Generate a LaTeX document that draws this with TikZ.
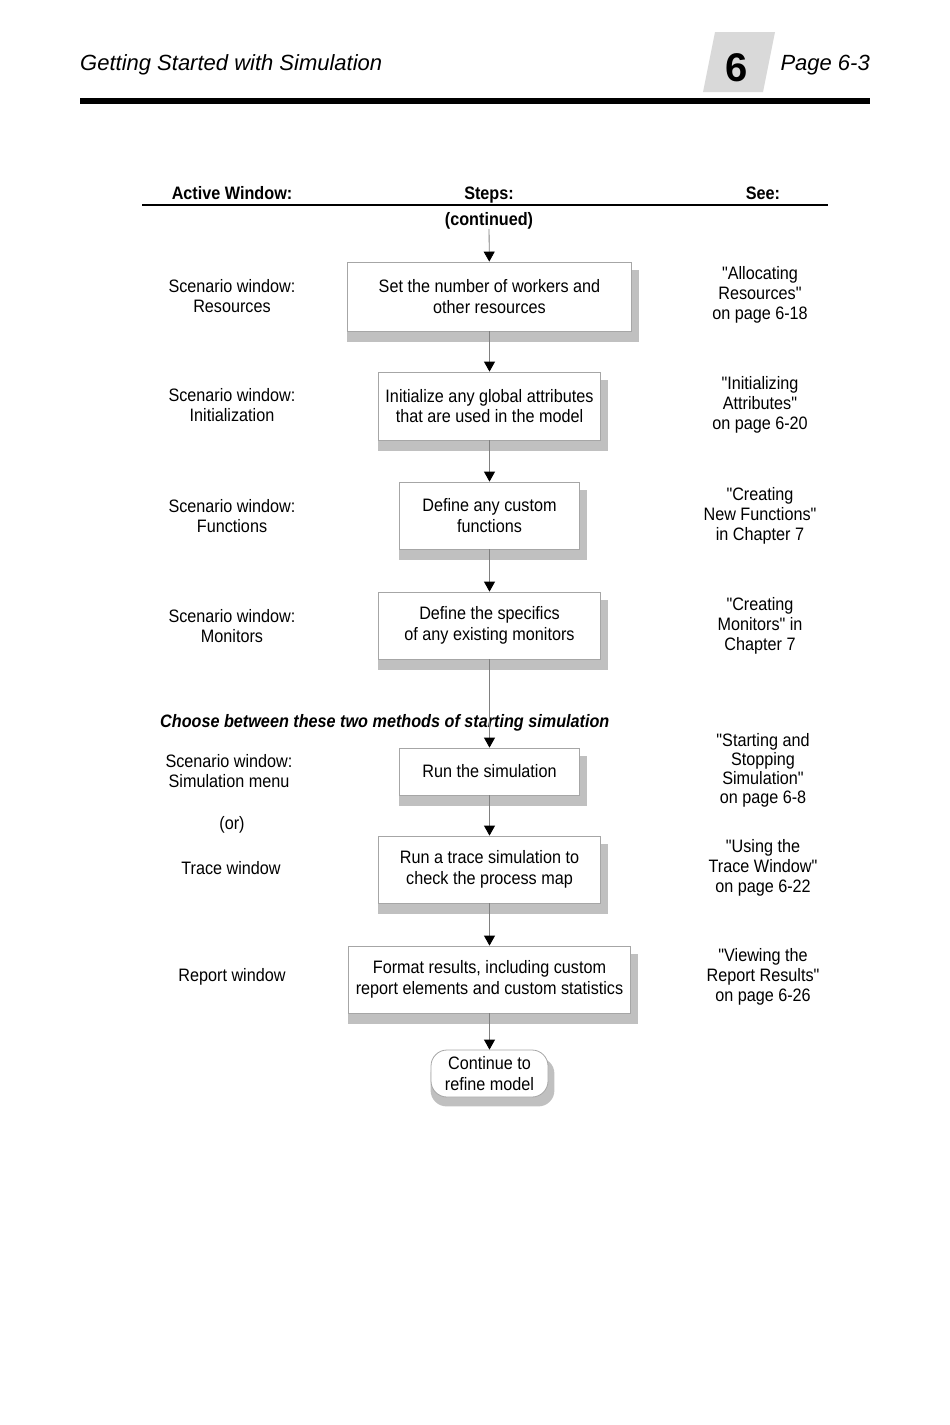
\documentclass[tikz,border=0pt]{standalone}
\usepackage{fontspec}
\setmainfont{Liberation Sans}
\newfontfamily\narrowsans{Liberation Sans}[FakeStretch=0.9]
\usepackage[usenames,dvipsnames]{xcolor}
\usepackage{tikz}
\usetikzlibrary{arrows.meta,backgrounds}

\definecolor{framegray}{HTML}{A6A6A6}
\definecolor{shadegray}{HTML}{C0C0C0}
\definecolor{linegray}{HTML}{808080}
\definecolor{tabgray}{HTML}{D9D9D9}

\tikzset{
  stepbox/.style={draw=framegray, line width=0.8pt, fill=white, align=center, inner sep=0pt,
    font=\narrowsans\fontsize{18}{20.5}\selectfont},
  note/.style={align=center, inner sep=0pt, font=\narrowsans\fontsize{18}{20}\selectfont},
  colhead/.style={anchor=base, inner sep=0pt, font=\narrowsans\bfseries\fontsize{18}{20}\selectfont},
  flow/.style={draw=linegray, line width=0.8pt, -{Triangle[length=10pt,width=11pt,color=black,fill=black]}},
  shade/.style={fill=shadegray},
}

\begin{document}
\begin{tikzpicture}[x=1pt,y=-1pt]
   \useasboundingbox (0,0) rectangle (950,1425);

   % page header
   \draw (80,70) node[anchor=base west, inner sep=0pt, font=\itshape\fontsize{22}{26}\selectfont] (title) {Getting Started with Simulation};
   \fill[tabgray] (715,32) -- (775,32) -- (763,92) -- (703,92) -- cycle;
   \draw (737,81) node[anchor=base, inner sep=0pt, font=\bfseries\fontsize{40}{44}\selectfont] (chapter) {6};
   \draw (870,70) node[anchor=base east, inner sep=0pt, font=\itshape\fontsize{22}{26}\selectfont] (page) {Page 6-3};
   \fill (80,98) rectangle (870,104);

   % column heads
   \draw (232,199) node[colhead] (activehead) {Active Window:};
   \draw (489,199) node[colhead] (stepshead) {Steps:};
   \draw (763,199) node[colhead] (seehead) {See:};
   \draw[line width=2pt] (142,205) -- (828,205);
   \draw (489,225) node[colhead] (continued) {(continued)};

   % steps
   \draw (489.5,296.5) node[stepbox, minimum width=284pt, minimum height=69pt] (resources) {Set the number of workers and\\other resources};
   \draw (489.5,406) node[stepbox, minimum width=222pt, minimum height=68pt] (globals) {Initialize any global attributes\\that are used in the model};
   \draw (489.5,515.5) node[stepbox, minimum width=180pt, minimum height=67pt] (functions) {Define any custom\\functions};
   \draw (489.5,625.5) node[stepbox, minimum width=222pt, minimum height=67pt] (monitors) {Define the specifics\\of any existing monitors};
   \draw (489.5,771.5) node[stepbox, minimum width=180pt, minimum height=47pt] (run) {Run the simulation};
   \draw (489.5,869.5) node[stepbox, minimum width=222pt, minimum height=67pt] (trace) {Run a trace simulation to\\check the process map};
   \draw (489.5,979.5) node[stepbox, minimum width=282pt, minimum height=67pt] (report) {Format results, including custom\\report elements and custom statistics};
   \draw (489.5,1073.5) node[stepbox, minimum width=117pt, minimum height=47pt, rounded corners=16pt] (refine) {Continue to\\refine model};

   % shadows
   \begin{pgfonlayer}{background}
     \fill[shade] ([yshift=-8pt]resources.north west) rectangle ([xshift=7pt,yshift=-11pt]resources.south east);
     \fill[shade] ([yshift=-8pt]globals.north west) rectangle ([xshift=7pt,yshift=-11pt]globals.south east);
     \fill[shade] ([yshift=-8pt]functions.north west) rectangle ([xshift=7pt,yshift=-11pt]functions.south east);
     \fill[shade] ([yshift=-8pt]monitors.north west) rectangle ([xshift=7pt,yshift=-11pt]monitors.south east);
     \fill[shade] ([yshift=-8pt]run.north west) rectangle ([xshift=7pt,yshift=-11pt]run.south east);
     \fill[shade] ([yshift=-8pt]trace.north west) rectangle ([xshift=7pt,yshift=-11pt]trace.south east);
     \fill[shade] ([yshift=-8pt]report.north west) rectangle ([xshift=7pt,yshift=-11pt]report.south east);
     \fill[shade, rounded corners=16pt] ([yshift=-8pt]refine.north west) rectangle ([xshift=6pt,yshift=-9pt]refine.south east);
   \end{pgfonlayer}

   % active window column
   \draw (232,296) node[note] (resourceswin) {Scenario window:\\ Resources};
   \draw (232,405) node[note] (globalswin) {Scenario window:\\ Initialization};
   \draw (232,516) node[note] (functionswin) {Scenario window:\\Functions};
   \draw (232,626) node[note] (monitorswin) {Scenario window:\\ Monitors};
   \draw (229,771) node[note] (runwin) {Scenario window:\\ Simulation menu};
   \draw (232,825) node[note] (orwin) {(or)};
   \draw (231,868) node[note] (tracewin) {Trace window};
   \draw (232,977) node[note] (reportwin) {Report window};

   % see column
   \draw (760,295) node[note] (resourcessee) {"Allocating\\Resources"\\on page 6-18};
   \draw (760,405) node[note] (globalssee) {"Initializing\\Attributes"\\on page 6-20};
   \draw (760,516) node[note] (functionssee) {"Creating\\New Functions"\\in Chapter 7};
   \draw (760,626) node[note] (monitorssee) {"Creating\\Monitors" in\\Chapter 7};
   \draw (763,770) node[note, font=\narrowsans\fontsize{18}{19}\selectfont] (runsee) {"Starting and\\Stopping\\Simulation"\\on page 6-8};
   \draw (763,868) node[note] (tracesee) {"Using the\\Trace Window"\\on page 6-22};
   \draw (763,977) node[note] (reportsee) {"Viewing the\\Report Results"\\on page 6-26};

   \draw (160,723) node[anchor=west, inner sep=0pt, font=\narrowsans\bfseries\itshape\fontsize{18}{20}\selectfont] (choose) {Choose between these two methods of starting simulation};

   % connectors
   \path[flow] (continued) edge (resources);
   \path[flow] (resources) edge (globals);
   \path[flow] (globals) edge (functions);
   \path[flow] (functions) edge (monitors);
   \path[flow] (monitors) edge (run);
   \path[flow] (run) edge (trace);
   \path[flow] (trace) edge (report);
   \path[flow] (report) edge (refine);

\end{tikzpicture}
\end{document}
